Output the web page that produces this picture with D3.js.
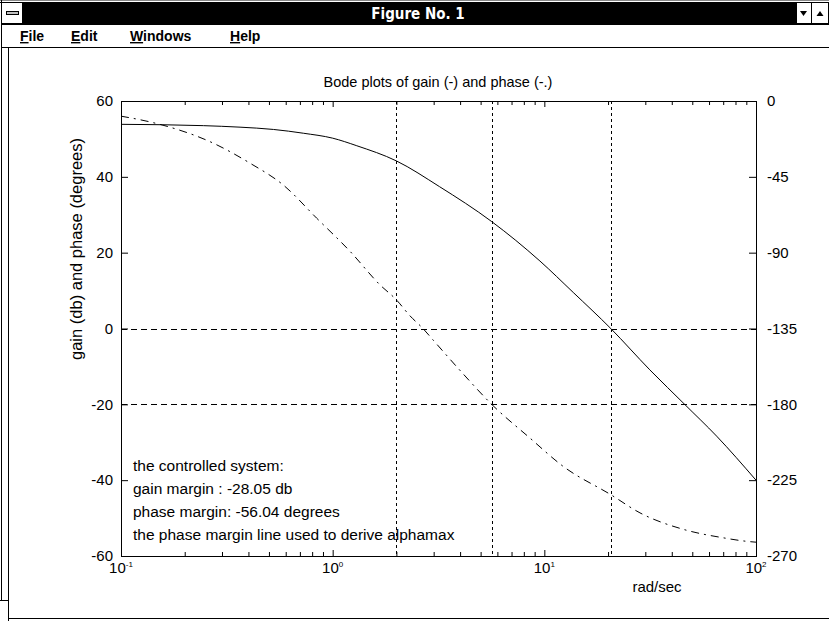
<!DOCTYPE html>
<html>
<head>
<meta charset="utf-8">
<script src="https://cdn.jsdelivr.net/npm/d3@7/dist/d3.min.js"></script>
<style>
    body { margin: 0; background: #fff; }
    svg text { font-family: "Liberation Sans", Arial, sans-serif; fill: #000; }
</style>
</head>
<body>
<div class="chart__container"></div>
<script>
/*-------------------------------------INIT-------------------------------------*/

const CHART__WIDTH = 829;
const CHART__HEIGHT = 621;

const PLOT = {
    left: 121,
    right: 756,
    top: 101,
    bottom: 556
}

// values
const GAIN_FREQ = [0.1, 0.245, 0.365, 0.525, 0.727, 1.0, 1.3, 2.0, 3.2, 5.64, 9.53, 13.7, 20.6, 31.5, 46.2, 65.2, 100];
const GAIN_DB = [53.85, 53.5, 53.1, 52.5, 51.5, 50.2, 48.2, 44.2, 37.4, 28.2, 17.8, 9.5, 0, -10.9, -20.1, -28.4, -40];

const PHASE_FREQ = [0.1, 0.137, 0.17, 0.263, 0.407, 0.585, 0.84, 1.21, 1.67, 2.0, 2.32, 2.67, 2.99, 4.14, 5.64, 8.55, 12.3, 20.6, 28.3, 45.4, 70, 90.4, 100];
const PHASE_DEG = [-9.0, -12.4, -15.5, -24.1, -36.9, -49.9, -69.5, -89.3, -109, -118, -127.5, -135, -142, -162, -180, -200, -216.9, -233.6, -244.4, -254.2, -259.2, -261.3, -261.8];

const MARKER_FREQ = [2.0, 5.64, 20.6];
const MARKER_GAIN = [0, -20];

const GAIN_TICKS = [-60, -40, -20, 0, 20, 40, 60];
const PHASE_TICKS = [-270, -225, -180, -135, -90, -45, 0];
const DECADES = [0.1, 1, 10, 100];
const DECADE_EXP = ["-1", "0", "1", "2"];

const TITLE = "Bode plots of gain (-) and phase (-.)";
const Y_LABEL = "gain (db) and phase (degrees)";
const X_LABEL = "rad/sec";
const NOTES = [
    "the controlled system:",
    "gain margin : -28.05 db",
    "phase margin: -56.04 degrees",
    "the phase margin line used to derive alphamax"
];
const MENU = ["File", "Edit", "Windows", "Help"];
const MENU_X = [20, 71, 130, 230];


/*-------------------------------------Window-------------------------------------*/

const SVG = d3.select(".chart__container").append("svg");

SVG.attr("width", CHART__WIDTH).attr("height", CHART__HEIGHT);

SVG.append("rect").attr("width", CHART__WIDTH).attr("height", CHART__HEIGHT).attr("fill", "#fff");

const frame = SVG.append("g").attr("shape-rendering", "crispEdges").attr("stroke", "#000").attr("fill", "none");

frame.append("line").attr("x1", 0).attr("x2", CHART__WIDTH).attr("y1", 0.5).attr("y2", 0.5).attr("stroke", "#888");
frame.append("line").attr("x1", 0).attr("x2", CHART__WIDTH).attr("y1", 2.5).attr("y2", 2.5);
frame.append("line").attr("x1", 1.5).attr("x2", 1.5).attr("y1", 0).attr("y2", 601);
frame.append("line").attr("x1", 0).attr("x2", 9).attr("y1", 600.5).attr("y2", 600.5);
frame.append("line").attr("x1", 8.5).attr("x2", 8.5).attr("y1", 48).attr("y2", CHART__HEIGHT);
frame.append("line").attr("x1", 8).attr("x2", CHART__WIDTH).attr("y1", 618.5).attr("y2", 618.5);

// title bar
SVG.append("rect").attr("x", 23).attr("y", 3).attr("width", 773).attr("height", 21).attr("fill", "#000");
frame.append("rect").attr("x", 1.5).attr("y", 2.5).attr("width", 21).attr("height", 21).attr("fill", "#fff");
frame.append("rect").attr("x", 6.5).attr("y", 11.5).attr("width", 12).attr("height", 3).attr("fill", "#c0c0c0");
frame.append("rect").attr("x", 796.5).attr("y", 2.5).attr("width", 15).attr("height", 21).attr("fill", "#fff");
frame.append("rect").attr("x", 811.5).attr("y", 2.5).attr("width", 17).attr("height", 21).attr("fill", "#fff");
SVG.append("path").attr("d", "M800,11 L807,11 L803.5,16 Z").attr("fill", "#000");
SVG.append("path").attr("d", "M816.5,16 L823.5,16 L820,11 Z").attr("fill", "#000");

SVG.append("text")
    .attr("x", 418)
    .attr("y", 19)
    .attr("text-anchor", "middle")
    .style("font-family", "'Liberation Sans Narrow', 'DejaVu Sans Condensed', sans-serif")
    .style("font-weight", "bold")
    .style("font-size", "15px")
    .style("fill", "#fff")
    .text("Figure No. 1");

// menu bar
frame.append("line").attr("x1", 1).attr("x2", CHART__WIDTH).attr("y1", 24.5).attr("y2", 24.5);
frame.append("line").attr("x1", 1).attr("x2", CHART__WIDTH).attr("y1", 47.5).attr("y2", 47.5);

const menu = SVG.append("g");

MENU.forEach((m, i) => {
    const t = menu.append("text")
        .attr("x", MENU_X[i])
        .attr("y", 41)
        .style("font-weight", "bold")
        .style("font-size", "14px");
    t.append("tspan").style("text-decoration", "underline").text(m[0]);
    t.append("tspan").text(m.slice(1));
});


/*-------------------------------------Graph-------------------------------------*/

const x = d3.scaleLog().domain([0.1, 100]).range([PLOT.left, PLOT.right]);
const yGain = d3.scaleLinear().domain([-60, 60]).range([PLOT.bottom, PLOT.top]);
const yPhase = d3.scaleLinear().domain([-270, 0]).range([PLOT.bottom, PLOT.top]);

const minorTicks = [];
DECADES.slice(0, 3).forEach(d => {
    for (let k = 2; k < 10; k++) minorTicks.push(d * k);
});

// grid markers
const grid = SVG.append("g").attr("shape-rendering", "crispEdges").attr("stroke", "#000").attr("fill", "none");

grid.selectAll(".vmark")
    .data(MARKER_FREQ)
    .join("line")
    .attr("class", "vmark")
    .attr("x1", d => Math.round(x(d)) + 0.5)
    .attr("x2", d => Math.round(x(d)) + 0.5)
    .attr("y1", PLOT.top)
    .attr("y2", PLOT.bottom)
    .attr("stroke-dasharray", "3,3");

grid.selectAll(".hmark")
    .data(MARKER_GAIN)
    .join("line")
    .attr("class", "hmark")
    .attr("x1", PLOT.left)
    .attr("x2", PLOT.right)
    .attr("y1", d => Math.round(yGain(d)) + 0.5)
    .attr("y2", d => Math.round(yGain(d)) + 0.5)
    .attr("stroke-dasharray", "6,4");

// curves
const gainLine = d3.line()
    .x(d => x(d[0]))
    .y(d => yGain(d[1]))
    .curve(d3.curveMonotoneX);

const phaseLine = d3.line()
    .x(d => x(d[0]))
    .y(d => yPhase(d[1]))
    .curve(d3.curveMonotoneX);

SVG.append("path")
    .datum(d3.zip(GAIN_FREQ, GAIN_DB))
    .attr("d", gainLine)
    .attr("fill", "none")
    .attr("stroke", "#000")
    .attr("stroke-width", 1);

SVG.append("path")
    .datum(d3.zip(PHASE_FREQ, PHASE_DEG))
    .attr("d", phaseLine)
    .attr("fill", "none")
    .attr("stroke", "#000")
    .attr("stroke-width", 1)
    .attr("stroke-dasharray", "8,5,2,5");

// axes
const axes = SVG.append("g").style("font-size", "15px");

const styleAxis = g => {
    g.select(".domain").remove();
    g.selectAll("text").style("font-family", "'Liberation Sans', Arial, sans-serif").style("font-size", "15px");
};

// plain hyphen minus, like the original
const plainFormat = d => String(d);

axes.append("g")
    .attr("transform", `translate(${PLOT.left},0)`)
    .call(d3.axisLeft(yGain).tickValues(GAIN_TICKS).tickSize(-7).tickPadding(8).tickFormat(plainFormat))
    .call(styleAxis);

axes.append("g")
    .attr("transform", `translate(${PLOT.right},0)`)
    .call(d3.axisRight(yPhase).tickValues(PHASE_TICKS).tickSize(-7).tickPadding(11).tickFormat(plainFormat))
    .call(styleAxis);

[[PLOT.bottom, d3.axisBottom], [PLOT.top, d3.axisTop]].forEach(([yy, ax]) => {
    axes.append("g")
        .attr("transform", `translate(0,${yy})`)
        .call(ax(x).tickValues(DECADES).tickSize(-6).tickFormat(""))
        .call(styleAxis);
    axes.append("g")
        .attr("transform", `translate(0,${yy})`)
        .call(ax(x).tickValues(minorTicks).tickSize(-4).tickFormat(""))
        .call(styleAxis);
});

axes.append("rect")
    .attr("x", PLOT.left + 0.5)
    .attr("y", PLOT.top + 0.5)
    .attr("width", PLOT.right - PLOT.left)
    .attr("height", PLOT.bottom - PLOT.top)
    .attr("fill", "none")
    .attr("stroke", "#000")
    .attr("shape-rendering", "crispEdges");

// decade labels with exponents
const decadeLabels = axes.selectAll(".decade")
    .data(DECADES)
    .join("text")
    .attr("class", "decade")
    .attr("x", d => x(d))
    .attr("y", PLOT.bottom + 17)
    .attr("text-anchor", "middle")
    .style("font-size", "15px");

decadeLabels.append("tspan").text("10");
decadeLabels.append("tspan")
    .attr("dy", -6)
    .style("font-size", "8px")
    .text((d, i) => DECADE_EXP[i]);

// texts
SVG.append("text")
    .attr("x", 438)
    .attr("y", 87)
    .attr("text-anchor", "middle")
    .style("font-size", "14.5px")
    .text(TITLE);

SVG.append("text")
    .attr("transform", "translate(82,249) rotate(-90)")
    .attr("text-anchor", "middle")
    .style("font-size", "16.5px")
    .text(Y_LABEL);

SVG.append("text")
    .attr("x", 657)
    .attr("y", 592)
    .attr("text-anchor", "middle")
    .style("font-size", "15px")
    .text(X_LABEL);

SVG.selectAll(".note")
    .data(NOTES)
    .join("text")
    .attr("class", "note")
    .attr("x", 133)
    .attr("y", (d, i) => 471 + i * 23.1)
    .style("font-size", "15.5px")
    .text(d => d);
</script>
</body>
</html>
